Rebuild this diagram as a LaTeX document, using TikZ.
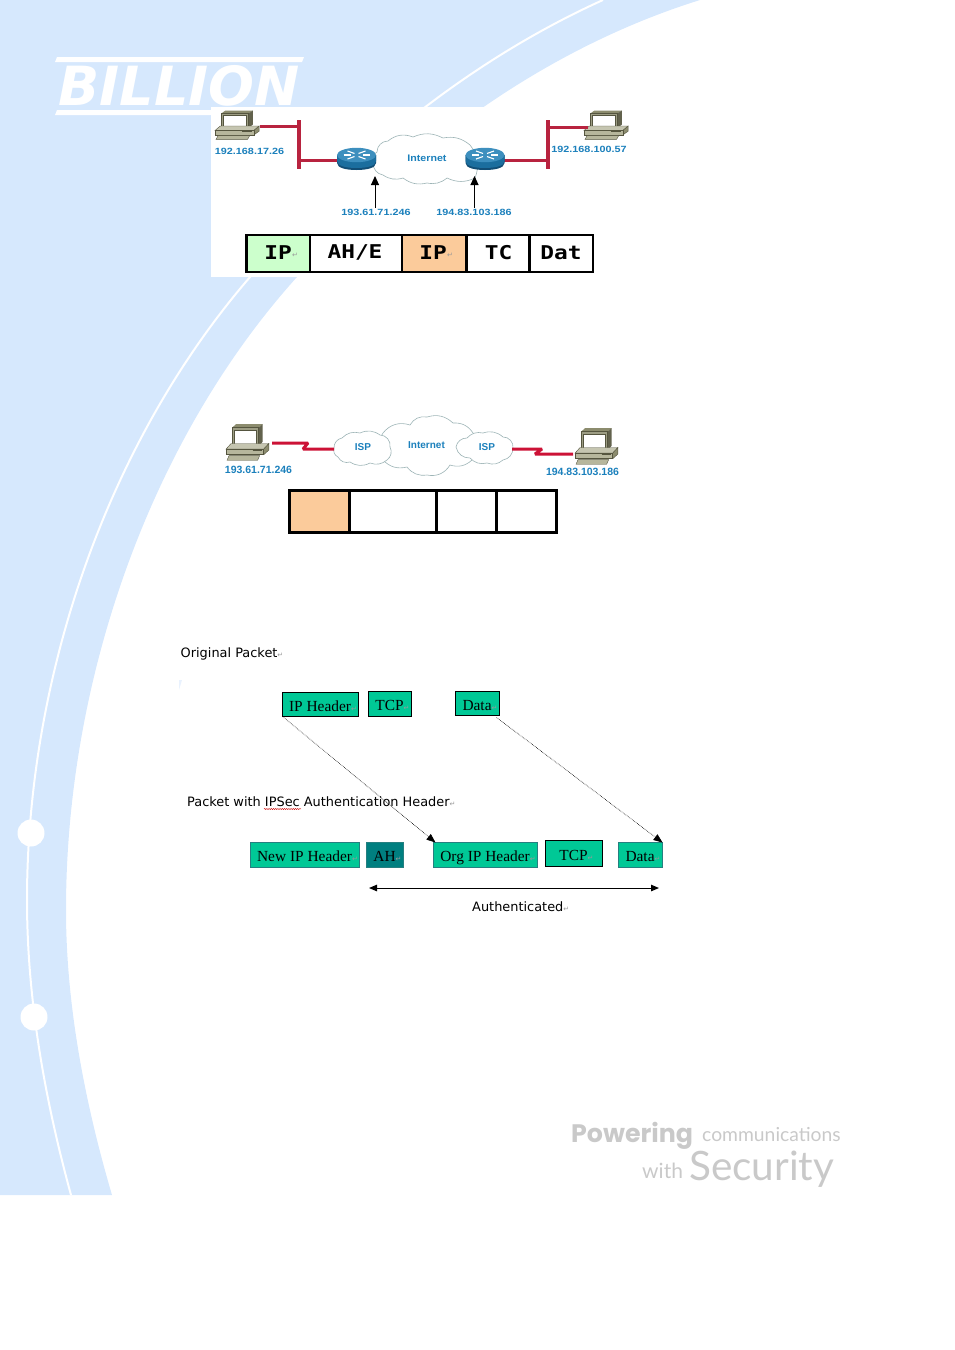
\documentclass[tikz,border=0pt]{standalone}
\usepackage{fontspec}
\usetikzlibrary{arrows.meta,decorations.pathmorphing}
\setmainfont{Liberation Serif}
\newfontfamily\arialfont{Liberation Sans}
\newfontfamily\dejafont{DejaVu Sans}
\newfontfamily\monofont{DejaVu Sans Mono}
\newfontfamily\latofont{Lato}
\newfontfamily\popfont{Poppins}
\definecolor{pageblue}{HTML}{D6E8FD}
\definecolor{linkred}{HTML}{B8233F}
\definecolor{wanred}{HTML}{CC1236}
\definecolor{labelblue}{HTML}{1B80BC}
\definecolor{cloudline}{HTML}{9DB4B6}
\definecolor{boxgreen}{HTML}{00C896}
\definecolor{boxteal}{HTML}{007F80}
\definecolor{hdrgreen}{HTML}{CCFFCC}
\definecolor{hdrorange}{HTML}{FBCB9B}
\definecolor{pcdark}{HTML}{55553F}
\definecolor{pcmid}{HTML}{8C8C6E}
\definecolor{pclight}{HTML}{B6B69C}
\definecolor{slogan}{HTML}{C9C9C9}
\definecolor{rttop}{HTML}{3D8FBE}
\definecolor{rtside}{HTML}{1B6E9E}
\definecolor{rtbase}{HTML}{124E75}
\newcommand{\retmark}{{\color{black!40}\dejafont\fontsize{7}{7}\selectfont ↵}}
\newcommand{\boxtext}[1]{\hspace*{5pt}#1\retmark}
% packet cell given by its corner coordinates
\newcommand{\cell}[7][]{\node[#1,minimum width={(#5-#3)*1pt},minimum height={(#6-#4)*1pt}] (#2) at ({(#3+#5)/2},{(#4+#6)/2}) {#7};}
\tikzset{
  pkthead/.style={draw=black,line width=2.6pt,inner sep=0pt,outer sep=0pt},
  pktplain/.style={draw=black,line width=3pt,inner sep=0pt,outer sep=0pt},
  greenbox/.style={draw=black,line width=.8pt,fill=boxgreen,inner sep=0pt,outer sep=0pt,text height=13.5pt,text depth=0pt,font=\fontsize{15.4}{15.4}\selectfont},
  softbox/.style={greenbox,draw=boxteal!70!gray},
  iplabel/.style={text=labelblue,inner sep=0pt,font=\arialfont\bfseries\fontsize{9}{9}\selectfont,xscale=1.2,transform shape},
  iplabelb/.style={text=labelblue,inner sep=0pt,font=\arialfont\bfseries\fontsize{10.5}{10.5}\selectfont},
  note/.style={inner sep=0pt,anchor=west,font=\dejafont\fontsize{12.9}{12.9}\selectfont},
  lanline/.style={linkred,line width=3pt},
  lanbar/.style={linkred,line width=3.8pt},
  wanline/.style={wanred,line width=3pt,line join=bevel},
  cloudshape/.style={draw=cloudline,line width=.6pt,fill=white},
  moved/.style={densely dotted,line width=.6pt,black,-{Triangle[length=9pt,width=7pt,black]}},
  uparrow/.style={black,line width=1pt,-{Triangle[length=9pt,width=8pt]}},
  pc/.pic={
    \fill[pcmid] (6,4) -- (10,0) -- (36,0) -- (32,4) -- cycle;
    \fill[pcmid!70!black] (32,4) -- (36,0) -- (36,19) -- (32,24) -- cycle;
    \fill[pcmid!85!white,draw=pcdark,line width=.6pt] (6,4) rectangle (32,24);
    \fill[white,draw=pcdark,line width=.7pt] (8,7) rectangle (30,22);
    \fill[pclight!80!white,draw=pcdark,line width=.4pt] (0,27) -- (5,21) -- (42,21) -- (37,27) -- cycle;
    \fill[pcmid,draw=pcdark,line width=.4pt] (37,27) -- (42,21) -- (42,28) -- (37,33) -- cycle;
    \fill[pclight,draw=pcdark,line width=.5pt] (0,27) rectangle (37,33);
    \draw[pcdark,line width=.7pt] (26,28.5) -- (35,28.5);
    \fill[pclight,draw=pcdark,line width=.4pt] (3,34) -- (33,34) -- (31,39) -- (1,39) -- cycle;
  },
  routerpic/.pic={
    \fill[rtbase] (-19.5,-4) -- (-19.5,4) .. controls (-19.5,9) and (-10,11) .. (0,11)
       .. controls (10,11) and (19.5,9) .. (19.5,4) -- (19.5,-4) -- cycle;
    \fill[rtside] (-19.5,-4) -- (-19.5,2) .. controls (-19.5,7) and (-10,9) .. (0,9)
       .. controls (10,9) and (19.5,7) .. (19.5,2) -- (19.5,-4) -- cycle;
    \fill[rttop] (0,-4) ellipse [x radius=19.5,y radius=7.2];
    \draw[white,line width=1.1pt] (-9,-8) -- (-2,-5.5) (2,-2.5) -- (9,0) (9,-8) -- (2,-5.5) (-2,-2.5) -- (-9,0);
    \draw[white,line width=1.1pt] (-13,-4) -- (-6,-4) (6,-4) -- (13,-4);
  }
}
\begin{document}
\begin{tikzpicture}[x=1pt,y=-1pt]
\useasboundingbox (0,0) rectangle (954,1350);

% page background: swoosh with a thin white line and two beads
\fill[pageblue] (0,0) -- (700,0) .. controls (540,50) and (400,155) .. (297,277)
   .. controls (150,440) and (66,680) .. (66,910)
   .. controls (66,1010) and (87,1110) .. (112,1195) -- (0,1195) -- cycle;
\draw[white,line width=2pt] (603,0) .. controls (470,60) and (345,160) .. (250,277)
   .. controls (105,445) and (27,680) .. (27,900)
   .. controls (27,1000) and (45,1100) .. (71,1195);
\fill[white] (31,833) circle [radius=13.5];
\fill[white] (34,1017) circle [radius=13.5];

% brand logo and slogan
\fill[white] (57,57) -- (304,57) -- (302,62) -- (55,62) -- cycle;
\fill[white] (57,110) -- (304,110) -- (302,115) -- (55,115) -- cycle;
\node[text=white,inner sep=0pt,font=\dejafont\bfseries\itshape\fontsize{54}{54}\selectfont] (logo) at (179,85.5) {BILLION};
\node[text=slogan,inner sep=0pt,anchor=base west,font=\popfont\bfseries\fontsize{25.3}{25.3}\selectfont] (powering) at (571,1142) {Powering};
\node[text=slogan,inner sep=0pt,anchor=base west,font=\latofont\fontsize{19.3}{19.3}\selectfont] (comms) at (702,1141) {communications};
\node[text=slogan,inner sep=0pt,anchor=base west,font=\latofont\fontsize{21}{21}\selectfont] (withw) at (642,1178) {with};
\node[text=slogan,inner sep=0pt,anchor=base west,font=\latofont\fontsize{40.5}{40.5}\selectfont] (security) at (689,1180) {Security};

% first network: two LANs joined through the Internet
\fill[white] (211,107) rectangle (628,277);
\draw[cloudshape] (377,152) to[bend left=45] (388,141) to[bend left=30] (413,137) to[bend left=25] (443,138) to[bend left=25] (470,145) to[bend left=30] (475,178) to[bend left=25] (447,178) to[bend left=25] (427,183) to[bend left=25] (403,178) to[bend left=25] (383,175) to[bend left=40] (373,163) to[bend left=40] (377,152);
\node[text=labelblue,inner sep=0pt,font=\arialfont\bfseries\fontsize{9.5}{9.5}\selectfont,xscale=1.12,transform shape] (inet1) at (427,158) {Internet};

\pic[xscale=1.05,yscale=.74] at (215,110.5) {pc};
\pic[xscale=1.05,yscale=.74] at (584,110.5) {pc};
\coordinate (pcA) at (260,126.5);
\coordinate (pcB) at (588,127);
\coordinate (barAt) at (299,120);
\coordinate (barAb) at (299,169);
\coordinate (barAm) at (299,126.5);
\coordinate (barAn) at (299,160);
\coordinate (barBt) at (548,120);
\coordinate (barBb) at (548,169);
\coordinate (barBm) at (548,127);
\coordinate (barBn) at (548,160);
\coordinate (rtA) at (338,160);
\coordinate (rtB) at (504,160);
\draw[lanline] (pcA) -- (barAm);
\draw[lanline] (barAn) -- (rtA);
\draw[lanline] (rtB) -- (barBn);
\draw[lanline] (barBm) -- (pcB);
\draw[lanbar] (barAt) -- (barAb);
\draw[lanbar] (barBt) -- (barBb);
\pic at (356.5,159) {routerpic};
\pic at (485,159) {routerpic};

\node[iplabel] (lblA) at (249.5,151) {192.168.17.26};
\node[iplabel] (lblB) at (589,149) {192.168.100.57};
\node[iplabel] (wanA) at (376,212.5) {193.61.71.246};
\node[iplabel] (wanB) at (474,212.5) {194.83.103.186};
\coordinate (gwA) at (375,176);
\coordinate (gwB) at (474.5,176);
\draw[uparrow] (wanA.north -| gwA) ++(0,-1) -- (gwA);
\draw[uparrow] (wanB.north -| gwB) ++(0,-1) -- (gwB);

% tunnel-mode packet layout
\cell[pkthead,fill=hdrgreen]{t1}{246.5}{235}{310}{272}{}
\cell[pkthead,fill=white]{t2}{310}{235}{402}{272}{}
\cell[pkthead,fill=hdrorange]{t3}{402}{235}{466.5}{272}{}
\cell[pkthead,fill=white]{t4}{466.5}{235}{529.5}{272}{}
\cell[pkthead,fill=white]{t5}{529.5}{235}{593}{272}{}
\tikzset{pkttext/.style={inner sep=0pt,font=\monofont\bfseries\fontsize{19}{19}\selectfont,xscale=1.2,transform shape}}
\node[pkttext] (t1t) at (278,252.5) {IP};
\node[inner sep=0pt] (t1m) at (295,255) {\retmark};
\node[pkttext] (t2t) at (355,252.5) {AH/E};
\node[pkttext] (t3t) at (433,252.5) {IP};
\node[inner sep=0pt] (t3m) at (450,255) {\retmark};
\node[pkttext] (t4t) at (498.5,252.5) {TC};
\node[pkttext] (t5t) at (561,252.5) {Dat};

% second network: two hosts reached through ISPs
\pic[xscale=1.02,yscale=.93] at (226,424) {pc};
\pic[xscale=1.02,yscale=.93] at (575,428) {pc};
\draw[cloudshape] (383,433) to[bend left=35] (410,425) to[bend left=35] (427,417) to[bend left=30] (453,423) to[bend left=30] (473,433) to[bend left=35] (472,460) to[bend left=30] (450,465) to[bend left=35] (427,475) to[bend left=30] (407,467) to[bend left=30] (383,460) to[bend left=35] (383,433);
\draw[cloudshape] (334,448) to[bend left=40] (342,438) to[bend left=30] (360,433) to[bend left=30] (380,435) to[bend left=50] (390,447) to[bend left=40] (387,460) to[bend left=30] (370,463) to[bend left=30] (350,462) to[bend left=40] (338,457) to[bend left=40] (334,448);
\draw[cloudshape] (456,447) to[bend left=40] (467,438) to[bend left=30] (483,433) to[bend left=30] (503,437) to[bend left=50] (513,448) to[bend left=40] (503,460) to[bend left=30] (487,463) to[bend left=30] (470,458) to[bend left=40] (456,447);
\node[text=labelblue,inner sep=0pt,font=\arialfont\bfseries\fontsize{10}{10}\selectfont] (isp1) at (363,447.5) {ISP};
\node[text=labelblue,inner sep=0pt,font=\arialfont\bfseries\fontsize{10}{10}\selectfont] (inet2) at (426.5,445.5) {Internet};
\node[text=labelblue,inner sep=0pt,font=\arialfont\bfseries\fontsize{10}{10}\selectfont] (isp2) at (487,447.5) {ISP};
\node[iplabelb] (hostA) at (258.5,470) {193.61.71.246};
\node[iplabelb] (hostB) at (582.5,472) {194.83.103.186};
\coordinate (hA) at (272,443);
\coordinate (hB) at (573,454);
\coordinate (ispA) at (334,449);
\coordinate (ispB) at (512,449);
\draw[wanline] (hA) -- (308,443) -- (303,449) -- (ispA);
\draw[wanline] (ispB) -- (542,449) -- (535,454) -- (hB);

% transport-mode packet layout
\cell[pktplain,fill=hdrorange]{m1}{289.5}{490}{349.5}{532}{}
\cell[pktplain,fill=white]{m2}{349.5}{490}{436}{532}{}
\cell[pktplain,fill=white]{m3}{436}{490}{496}{532}{}
\cell[pktplain,fill=white]{m4}{496}{490}{556.5}{532}{}

% authentication header figure
\fill[pageblue!55!white] (179,680) -- (182,680) -- (179,690) -- cycle;
\node[note] (orig) at (180.5,654) {Original Packet\retmark};
\node[note] (withah) at (187,802) {Packet with IPSec Authentication Header\retmark};
\draw[red!80!black,line width=.4pt,decorate,decoration={snake,amplitude=.6pt,segment length=2.2pt}] (264,809) -- (301,809);
\node[note] (auth) at (472,906.5) {Authenticated\retmark};

\cell[greenbox]{a1}{282.5}{692}{358.5}{716.5}{\boxtext{IP Header}}
\cell[greenbox]{a2}{368.5}{691}{411.5}{716.5}{\boxtext{TCP}}
\cell[greenbox]{a3}{455.5}{691}{499.5}{715.5}{\boxtext{Data}}
\cell[softbox]{b1}{250.5}{842.5}{359.5}{867.5}{\boxtext{New IP Header}}
\cell[softbox,fill=boxteal]{b2}{366.5}{842.5}{403.5}{867.5}{\boxtext{AH}}
\cell[softbox]{b3}{433.5}{842.5}{537.5}{867.5}{\boxtext{Org IP Header}}
\cell[greenbox]{b4}{545.5}{840.5}{602.5}{866.5}{\boxtext{TCP}}
\cell[softbox]{b5}{618.5}{842.5}{662.5}{867.5}{\boxtext{Data}}

\draw[moved] (a1.south west) -- ([xshift=2pt]b3.north west);
\draw[moved] ([xshift=-3pt,yshift=-2pt]a3.south east) -- (b5.north east);
\coordinate (authL) at (369,888);
\coordinate (authR) at (659,888);
\draw[black,line width=1pt,{Triangle[length=8pt,width=6.5pt]}-{Triangle[length=8pt,width=6.5pt]}] (authL) -- (authR);
\end{tikzpicture}
\end{document}
